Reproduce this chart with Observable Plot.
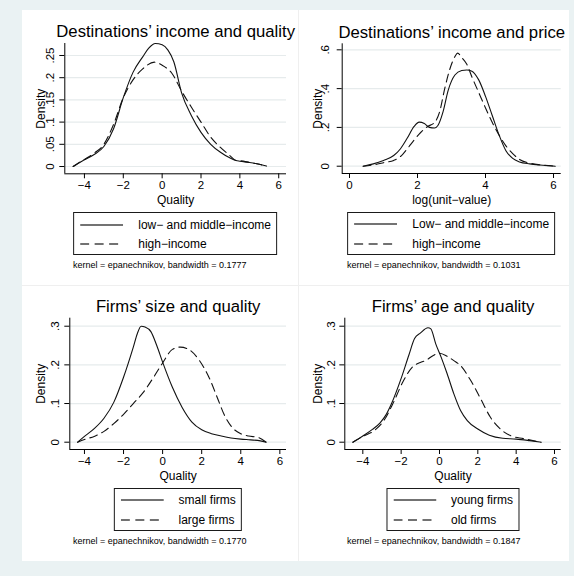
<!DOCTYPE html>
<html>
<head>
<meta charset="utf-8">
<script src="https://cdn.jsdelivr.net/npm/d3@7"></script>
<script src="https://cdn.jsdelivr.net/npm/@observablehq/plot@0.6"></script>
<style>
  html, body { margin: 0; padding: 0; }
  body { background: #eaf2f3; font-family: "Liberation Sans", Arial, sans-serif; color: #000; }
  #page { position: relative; width: 574px; height: 576px; overflow: hidden; background: #eaf2f3; }
  .sheet { position: absolute; background: #fff; }
  .sep { position: absolute; background: #efefef; }
  .layer { position: absolute; left: 0; top: 0; }
  .legend {
    position: absolute; transform: translateX(-50%);
    border: 1px solid #1a1a1a; background: #fff;
    padding: 2px 5px 0 6px; white-space: nowrap;
  }
  .legend .row { height: 19.5px; display: flex; align-items: center; font-size: 12px; }
  .legend .row svg { margin-right: 15px; flex: none; }
  .note { position: absolute; transform: translateX(-50%); font-size: 9px; white-space: nowrap; }
</style>
</head>
<body>
<div id="page"></div>
<script>
// Kernel density estimates, as [x, density] pairs

// Destinations' income and quality
const lowMidIncomeQuality = [
  [-4.58, 0.000], [-4.3, 0.008], [-4.0, 0.015], [-3.5, 0.027], [-3.0, 0.045],
  [-2.5, 0.085], [-2.0, 0.155], [-1.5, 0.212], [-1.0, 0.247], [-0.7, 0.266],
  [-0.35, 0.277], [0.0, 0.274], [0.3, 0.262], [0.6, 0.236], [1.0, 0.166],
  [1.5, 0.115], [2.0, 0.077], [2.5, 0.050], [3.0, 0.032], [3.5, 0.019],
  [3.8, 0.0135], [4.0, 0.012], [4.5, 0.009], [5.0, 0.005], [5.37, 0.001]
];
const highIncomeQuality = [
  [-4.58, 0.000], [-4.3, 0.008], [-4.0, 0.016], [-3.5, 0.030], [-3.0, 0.050],
  [-2.5, 0.095], [-2.0, 0.155], [-1.5, 0.195], [-1.0, 0.220], [-0.4, 0.235],
  [0.0, 0.228], [0.5, 0.210], [1.0, 0.170], [1.5, 0.134], [2.0, 0.100],
  [2.5, 0.066], [3.0, 0.043], [3.5, 0.024], [3.8, 0.0135], [4.0, 0.013],
  [4.5, 0.009], [5.0, 0.005], [5.37, 0.001]
];

// Destinations' income and price
const lowMidIncomePrice = [
  [0.40, 0.000], [0.70, 0.012], [1.00, 0.030], [1.30, 0.055], [1.50, 0.090],
  [1.70, 0.145], [1.90, 0.205], [2.05, 0.227], [2.20, 0.220], [2.35, 0.200],
  [2.50, 0.197], [2.60, 0.210], [2.75, 0.280], [2.90, 0.390], [3.10, 0.470],
  [3.30, 0.493], [3.45, 0.496], [3.60, 0.490], [3.80, 0.445], [4.00, 0.360],
  [4.20, 0.260], [4.40, 0.160], [4.60, 0.080], [4.80, 0.040], [5.00, 0.022],
  [5.30, 0.012], [5.60, 0.006], [6.05, 0.000]
];
const highIncomePrice = [
  [0.40, 0.000], [0.80, 0.010], [1.00, 0.018], [1.30, 0.030], [1.50, 0.050],
  [1.70, 0.090], [1.90, 0.135], [2.10, 0.175], [2.30, 0.205], [2.50, 0.225],
  [2.65, 0.280], [2.80, 0.400], [2.95, 0.500], [3.10, 0.565], [3.18, 0.583],
  [3.30, 0.560], [3.45, 0.525], [3.60, 0.460], [3.80, 0.380], [4.00, 0.300],
  [4.20, 0.225], [4.40, 0.160], [4.60, 0.105], [4.80, 0.065], [5.00, 0.035],
  [5.30, 0.016], [5.60, 0.007], [6.05, 0.000]
];

// Firms' size and quality
const smallFirmsQuality = [
  [-4.35, 0.000], [-4.0, 0.015], [-3.5, 0.035], [-3.0, 0.062], [-2.5, 0.103],
  [-2.0, 0.168], [-1.5, 0.246], [-1.3, 0.280], [-1.1, 0.300], [-0.9, 0.298],
  [-0.6, 0.286], [-0.3, 0.250], [0.0, 0.207], [0.5, 0.142], [1.0, 0.090],
  [1.5, 0.052], [2.0, 0.032], [2.5, 0.022], [3.0, 0.016], [3.5, 0.011],
  [4.0, 0.008], [4.5, 0.006], [5.0, 0.0035], [5.3, 0.000]
];
const largeFirmsQuality = [
  [-4.35, 0.000], [-4.0, 0.007], [-3.5, 0.015], [-3.0, 0.028], [-2.5, 0.048],
  [-2.0, 0.072], [-1.5, 0.100], [-1.0, 0.128], [-0.5, 0.165], [0.0, 0.205],
  [0.5, 0.240], [0.9, 0.246], [1.4, 0.238], [1.9, 0.210], [2.4, 0.165],
  [2.8, 0.115], [3.2, 0.066], [3.6, 0.036], [4.0, 0.022], [4.4, 0.016],
  [4.9, 0.012], [5.3, 0.000]
];

// Firms' age and quality
const youngFirmsQuality = [
  [-4.52, 0.000], [-4.0, 0.016], [-3.5, 0.033], [-3.1, 0.050], [-2.8, 0.070],
  [-2.5, 0.100], [-2.0, 0.165], [-1.6, 0.225], [-1.3, 0.268], [-1.0, 0.282],
  [-0.6, 0.296], [-0.45, 0.293], [-0.2, 0.255], [0.1, 0.218], [0.4, 0.177],
  [0.75, 0.125], [1.1, 0.082], [1.45, 0.056], [2.0, 0.034], [2.6, 0.018],
  [3.3, 0.010], [4.0, 0.008], [4.7, 0.004], [5.3, 0.000]
];
const oldFirmsQuality = [
  [-4.52, 0.000], [-4.0, 0.015], [-3.4, 0.030], [-2.9, 0.056], [-2.4, 0.103],
  [-1.9, 0.157], [-1.4, 0.195], [-1.0, 0.206], [-0.7, 0.212], [-0.3, 0.225],
  [0.0, 0.230], [0.4, 0.222], [0.75, 0.211], [1.1, 0.198], [1.6, 0.162],
  [2.15, 0.112], [2.65, 0.065], [3.2, 0.033], [3.7, 0.017], [4.4, 0.009],
  [5.3, 0.000]
];

// Axis ticks
const qualityTicks = [-4, -2, 0, 2, 4, 6];
const priceTicks = [0, 2, 4, 6];
const incomeQualityDensityTicks = [0, 0.05, 0.1, 0.15, 0.2, 0.25];
const incomePriceDensityTicks = [0, 0.2, 0.4, 0.6];
const firmsDensityTicks = [0, 0.1, 0.2, 0.3];

// Text
const panelTitles = [
  "Destinations’ income and quality",
  "Destinations’ income and price",
  "Firms’ size and quality",
  "Firms’ age and quality"
];
const xTitles = ["Quality", "log(unit−value)", "Quality", "Quality"];
const legendLabels = [
  ["low− and middle−income", "high−income"],
  ["Low− and middle−income", "high−income"],
  ["small firms", "large firms"],
  ["young firms", "old firms"]
];
const bandwidths = ["0.1777", "0.1031", "0.1770", "0.1847"];

// Panel geometry in page pixels: sheet box and plot frame [left, top, right, bottom]
const W = 574, H = 576;
const panels = [
  { box: [22, 10, 297.5, 284.5], frame: [64.3, 43, 286, 173.3], labelGap: 14,
    xDomain: [-5.01, 6.40], yDomain: [-0.0164, 0.277],
    xTicks: qualityTicks, yTicks: incomeQualityDensityTicks,
    series: [lowMidIncomeQuality, highIncomeQuality] },
  { box: [298.5, 10, 569, 284.5], frame: [341.7, 43.3, 560.7, 173], labelGap: 17,
    xDomain: [-0.215, 6.226], yDomain: [-0.0376, 0.631],
    xTicks: priceTicks, yTicks: incomePriceDensityTicks,
    series: [lowMidIncomePrice, highIncomePrice] },
  { box: [22, 285.5, 297.5, 561], frame: [69.3, 317.7, 286, 449], labelGap: 14,
    xDomain: [-4.75, 6.34], yDomain: [-0.0189, 0.3207],
    xTicks: qualityTicks, yTicks: firmsDensityTicks,
    series: [smallFirmsQuality, largeFirmsQuality] },
  { box: [298.5, 285.5, 569, 561], frame: [344.3, 317.7, 560.7, 449], labelGap: 13,
    xDomain: [-4.94, 6.35], yDomain: [-0.0189, 0.3207],
    xTicks: qualityTicks, yTicks: firmsDensityTicks,
    series: [youngFirmsQuality, oldFirmsQuality] }
];

const dashes = [null, "8,5"];
const ink = "#111";
const gridColor = "#e6ebec";
const densityFormat = d => d === 0 ? "0" : String(+d.toFixed(4)).replace(/^0\./, ".");
const axisFormat = d => d < 0 ? "−" + Math.abs(d) : String(d);

const page = document.getElementById("page");

// white sheet and thin separators between the four graphs
const sheet = document.createElement("div");
sheet.className = "sheet";
Object.assign(sheet.style, { left: "22px", top: "10px", width: "547px", height: "551px" });
page.appendChild(sheet);
const vsep = document.createElement("div");
vsep.className = "sep";
Object.assign(vsep.style, { left: "297.5px", top: "10px", width: "1.2px", height: "551px" });
page.appendChild(vsep);
const hsep = document.createElement("div");
hsep.className = "sep";
Object.assign(hsep.style, { left: "22px", top: "284.5px", width: "547px", height: "1.2px" });
page.appendChild(hsep);

panels.forEach((p, i) => {
  const [L, T, R, B] = p.frame;
  const cx = (L + R) / 2;
  const centred = { textAnchor: "middle", lineAnchor: "middle", fill: "#000" };

  const chart = Plot.plot({
    width: W, height: H,
    marginLeft: L, marginRight: W - R, marginTop: T, marginBottom: H - B,
    x: { domain: p.xDomain },
    y: { domain: p.yDomain },
    style: { fontFamily: "'Liberation Sans', Arial, sans-serif", background: "none", color: "#000", overflow: "visible" },
    marks: [
      Plot.ruleY(p.yTicks, { stroke: gridColor, strokeWidth: 1.2 }),
      Plot.ruleY([p.yDomain[0]], { stroke: "#000", strokeWidth: 1 }),
      Plot.ruleX([p.xDomain[0]], { stroke: "#000", strokeWidth: 1 }),
      Plot.axisX({ ticks: p.xTicks, tickSize: 5, tickPadding: 2, fontSize: 11.5, tickFormat: axisFormat, label: null }),
      Plot.axisY({ ticks: p.yTicks, tickSize: 5, tickFormat: () => "", label: null }),
      Plot.text(p.yTicks, {
        y: d => d, frameAnchor: "left", dx: -p.labelGap, rotate: -90,
        text: densityFormat, fontSize: 11.5, ...centred
      }),
      Plot.text(["Density"], {
        frameAnchor: "left", dx: (p.box[0] + 18.7) - L, rotate: -90, fontSize: 12, ...centred
      }),
      Plot.text([xTitles[i]], { frameAnchor: "bottom", dy: 26.5, fontSize: 12, ...centred }),
      Plot.text([panelTitles[i]], { frameAnchor: "top", dy: -11.5, fontSize: 16.7, ...centred }),
      ...p.series.map((s, k) => Plot.line(s, {
        x: d => d[0], y: d => d[1], curve: "monotone-x",
        stroke: ink, strokeWidth: 1.1, strokeDasharray: dashes[k]
      }))
    ]
  });
  chart.classList.add("layer");
  page.appendChild(chart);

  // legend box under the x title
  const legend = document.createElement("div");
  legend.className = "legend";
  legend.style.left = cx + "px";
  legend.style.top = (B + 38.5) + "px";
  legendLabels[i].forEach((label, k) => {
    const row = document.createElement("div");
    row.className = "row";
    const key = document.createElementNS("http://www.w3.org/2000/svg", "svg");
    key.setAttribute("width", 43);
    key.setAttribute("height", 10);
    const ln = document.createElementNS("http://www.w3.org/2000/svg", "line");
    ln.setAttribute("x1", 0); ln.setAttribute("x2", 43);
    ln.setAttribute("y1", 5); ln.setAttribute("y2", 5);
    ln.setAttribute("stroke", "#444");
    ln.setAttribute("stroke-width", 1.3);
    if (dashes[k]) ln.setAttribute("stroke-dasharray", "9,5.5");
    key.appendChild(ln);
    row.appendChild(key);
    const txt = document.createElement("span");
    txt.textContent = label;
    row.appendChild(txt);
    legend.appendChild(row);
  });
  page.appendChild(legend);

  // kernel note, centred on the graph
  const note = document.createElement("div");
  note.className = "note";
  note.textContent = "kernel = epanechnikov, bandwidth = " + bandwidths[i];
  note.style.left = ((p.box[0] + p.box[2]) / 2) + "px";
  note.style.top = (B + 87) + "px";
  page.appendChild(note);
});
</script>
</body>
</html>
